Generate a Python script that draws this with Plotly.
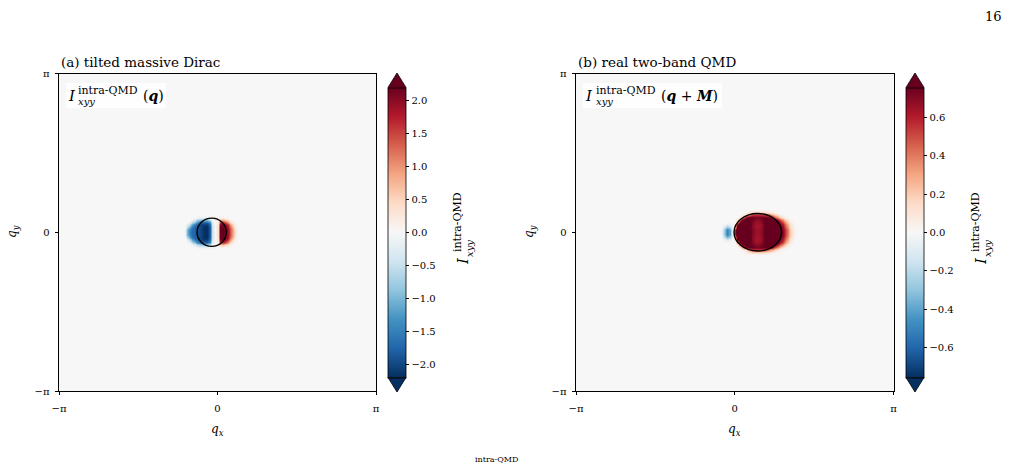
import numpy as np
import plotly.graph_objects as go

W, H = 1013, 467
PI = np.pi
FONT = "DejaVu Serif"

# ---------------- data: panel (a) tilted massive Dirac ----------------
qx_a = [-0.65, -0.60, -0.55, -0.50, -0.45, -0.40, -0.35, -0.30, -0.25, -0.20, -0.15, -0.10,
        -0.05, 0.00, 0.05, 0.10, 0.15, 0.20, 0.25, 0.30, 0.35, 0.40, 0.45]
qy_a = [-0.35, -0.30, -0.25, -0.20, -0.15, -0.10, -0.05, 0.00, 0.05, 0.10, 0.15, 0.20, 0.25, 0.30, 0.35]
# values in tenths, rows from qy=-0.35 (bottom) to qy=+0.35 (top)
z_a_tenths = [
    [0, 0, 0, 0, 0, 0, 0, 0, 0, 0, 0, 0, 0, 0, 0, 0, 0, 0, 0, 0, 0, 0, 0],
    [0, 0, 0, 0, 0, -1, -1, -1, -1, -1, 0, 2, 1, -1, 0, 0, 0, 0, 0, 0, 0, 0, 0],
    [0, 0, 0, -1, -3, -6, -8, -9, -9, -8, -5, 0, 1, 1, 6, 7, 5, 3, 1, 0, 0, 0, 0],
    [0, 0, -2, -6, -10, -14, -17, -18, -18, -18, -14, -3, 0, 2, 16, 17, 15, 10, 5, 1, 0, 0, 0],
    [0, -2, -7, -12, -16, -18, -20, -21, -21, -21, -17, -4, 0, 3, 21, 21, 20, 16, 10, 4, 1, 0, 0],
    [0, -6, -12, -16, -18, -19, -20, -21, -22, -22, -18, -5, 0, 4, 22, 22, 21, 18, 13, 7, 2, 0, 0],
    [-1, -10, -15, -17, -18, -19, -20, -21, -22, -22, -18, -5, 0, 4, 22, 22, 21, 19, 14, 8, 3, 0, 0],
    [-1, -10, -15, -17, -18, -19, -20, -21, -22, -22, -18, -5, 0, 4, 22, 22, 21, 19, 14, 8, 3, 0, 0],
    [-1, -10, -15, -17, -18, -19, -20, -21, -22, -22, -18, -5, 0, 4, 22, 22, 21, 19, 14, 8, 3, 0, 0],
    [0, -6, -12, -16, -18, -19, -20, -21, -22, -22, -18, -5, 0, 4, 22, 22, 21, 18, 13, 7, 2, 0, 0],
    [0, -2, -7, -12, -16, -18, -20, -21, -21, -21, -17, -4, 0, 3, 21, 21, 20, 16, 10, 4, 1, 0, 0],
    [0, 0, -2, -6, -10, -14, -17, -18, -18, -18, -14, -3, 0, 2, 16, 17, 15, 10, 5, 1, 0, 0, 0],
    [0, 0, 0, -1, -3, -6, -8, -9, -9, -8, -5, 0, 1, 1, 6, 7, 5, 3, 1, 0, 0, 0, 0],
    [0, 0, 0, 0, 0, -1, -1, -1, -1, -1, 0, 2, 2, 0, 1, 1, 0, 0, 0, 0, 0, 0, 0],
    [0, 0, 0, 0, 0, 0, 0, 0, 0, 0, 0, 0, 0, 0, 0, 0, 0, 0, 0, 0, 0, 0, 0],
]
fermi_a_center = [-0.115, 0.0]
fermi_a_radius = [0.29, 0.28]
zlim_a = 2.19
cbar_a_ticks = [-2.0, -1.5, -1.0, -0.5, 0.0, 0.5, 1.0, 1.5, 2.0]

# ---------------- data: panel (b) real two-band QMD ----------------
qx_b = [-0.30, -0.25, -0.20, -0.15, -0.10, -0.05, 0.00, 0.05, 0.10, 0.15, 0.20, 0.25, 0.30, 0.35,
        0.40, 0.45, 0.50, 0.55, 0.60, 0.65, 0.70, 0.75, 0.80, 0.85, 0.90, 0.95, 1.00, 1.05, 1.10,
        1.15, 1.20, 1.25]
qy_b = [-0.45, -0.40, -0.35, -0.30, -0.25, -0.20, -0.15, -0.10, -0.05, 0.00, 0.05, 0.10, 0.15,
        0.20, 0.25, 0.30, 0.35, 0.40, 0.45]
# values in hundredths, rows from qy=-0.45 (bottom) to qy=+0.45 (top)
z_b_hundredths = [
    [0] * 32,
    [0, 0, 0, 0, 0, 0, 0, 0, 0, 0, 2, 5, 10, 14, 16, 16, 16, 15, 13, 10, 7, 4, 2, 0, 0, 0, 0, 0, 0, 0, 0, 0],
    [0, 0, 0, 0, 0, 0, 0, 0, 0, 3, 10, 22, 40, 52, 56, 56, 56, 54, 50, 44, 36, 26, 16, 8, 3, 1, 0, 0, 0, 0, 0, 0],
    [0, 0, 0, 0, 0, 0, 0, 0, 8, 25, 60, 78, 80, 78, 74, 72, 74, 76, 78, 76, 72, 62, 48, 34, 20, 10, 4, 1, 0, 0, 0, 0],
    [0, 0, 0, 0, 0, 0, 0, 5, 40, 80, 86, 84, 80, 74, 70, 68, 70, 74, 80, 82, 82, 80, 74, 62, 48, 32, 18, 8, 2, 0, 0, 0],
    [0, 0, 0, 0, 0, 0, 0, 30, 80, 88, 88, 84, 78, 72, 66, 64, 66, 72, 80, 85, 86, 85, 82, 75, 65, 50, 35, 18, 8, 2, 0, 0],
    [0, 0, -5, -10, -5, 0, 5, 70, 88, 90, 88, 84, 78, 70, 65, 63, 65, 70, 80, 86, 88, 88, 86, 80, 72, 60, 44, 27, 12, 4, 0, 0],
    [0, -3, -20, -32, -22, -5, 20, 86, 90, 90, 88, 84, 78, 70, 65, 63, 65, 70, 80, 86, 90, 90, 88, 84, 76, 65, 50, 32, 16, 6, 1, 0],
    [0, -8, -35, -50, -38, -8, 60, 88, 92, 92, 90, 86, 80, 72, 66, 64, 66, 72, 82, 88, 92, 92, 90, 86, 80, 70, 55, 38, 20, 8, 2, 0],
    [0, -8, -35, -50, -38, -8, 60, 88, 92, 92, 90, 86, 80, 72, 66, 64, 66, 72, 82, 88, 92, 92, 90, 86, 80, 70, 55, 38, 20, 8, 2, 0],
    [0, -8, -35, -50, -38, -8, 60, 88, 92, 92, 90, 86, 80, 72, 66, 64, 66, 72, 82, 88, 92, 92, 90, 86, 80, 70, 55, 38, 20, 8, 2, 0],
    [0, -3, -20, -32, -22, -5, 20, 86, 90, 90, 88, 84, 78, 70, 65, 63, 65, 70, 80, 86, 90, 90, 88, 84, 76, 65, 50, 32, 16, 6, 1, 0],
    [0, 0, -5, -10, -5, 0, 5, 70, 88, 90, 88, 84, 78, 70, 65, 63, 65, 70, 80, 86, 88, 88, 86, 80, 72, 60, 44, 27, 12, 4, 0, 0],
    [0, 0, 0, 0, 0, 0, 0, 30, 80, 88, 88, 84, 78, 72, 66, 64, 66, 72, 80, 85, 86, 85, 82, 75, 65, 50, 35, 18, 8, 2, 0, 0],
    [0, 0, 0, 0, 0, 0, 0, 5, 40, 80, 86, 84, 80, 74, 70, 68, 70, 74, 80, 82, 82, 80, 74, 62, 48, 32, 18, 8, 2, 0, 0, 0],
    [0, 0, 0, 0, 0, 0, 0, 0, 8, 25, 60, 78, 80, 78, 74, 72, 74, 76, 78, 76, 72, 62, 48, 34, 20, 10, 4, 1, 0, 0, 0, 0],
    [0, 0, 0, 0, 0, 0, 0, 0, 0, 3, 10, 22, 40, 52, 56, 56, 56, 54, 50, 44, 36, 26, 16, 8, 3, 1, 0, 0, 0, 0, 0, 0],
    [0, 0, 0, 0, 0, 0, 0, 0, 0, 0, 2, 5, 10, 14, 16, 16, 16, 15, 13, 10, 7, 4, 2, 0, 0, 0, 0, 0, 0, 0, 0, 0],
    [0] * 32,
]
fermi_b_center = [0.456, 0.0]
fermi_b_radius = [0.47, 0.37]
zlim_b = 0.757
cbar_b_ticks = [-0.6, -0.4, -0.2, 0.0, 0.2, 0.4, 0.6]

axis_ticks = [-PI, 0.0, PI]
axis_ticktext = ["\u2212\u03c0", "0", "\u03c0"]

RDBU_R = ["#053061", "#2166ac", "#4393c3", "#92c5de", "#d1e5f0", "#f7f7f7",
          "#fddbc7", "#f4a582", "#d6604d", "#b2182b", "#67001f"]
colorscale = [[i / 10, c] for i, c in enumerate(RDBU_R)]


def padded(qx, qy, rows, scale):
    # surround the read-off window with zero-valued cells out to the zone edges
    dx = qx[1] - qx[0]
    dy = qy[1] - qy[0]
    x = [-PI, qx[0] - dx] + list(qx) + [qx[-1] + dx, PI]
    y = [-PI, qy[0] - dy] + list(qy) + [qy[-1] + dy, PI]
    zero = [0.0] * len(x)
    z = [zero, zero]
    for r in rows:
        z.append([0.0, 0.0] + [v * scale for v in r] + [0.0, 0.0])
    z += [zero, zero]
    return x, y, z


def fmt(v, nd):
    s = f"{abs(v):.{nd}f}"
    return ("\u2212" + s) if v < -1e-9 else s


def px(x):
    return x / W


def py(y):
    return 1 - y / H


# layout geometry (pixels)
A_L, A_R = 59, 376
B_L, B_R = 576, 893.5
P_T, P_B = 73.5, 391
CB_W = 18
CBA_L, CBB_L = 388, 906
CB_T, CB_B = 87.5, 377.5
TRI_T, TRI_B = 73, 392

fig = go.Figure()

xa, ya, za = padded(qx_a, qy_a, z_a_tenths, 0.1)
xb, yb, zb = padded(qx_b, qy_b, z_b_hundredths, 0.01)


def cbar(left, ticks, nd):
    return dict(
        x=px(left), xanchor="left", xpad=0, ypad=0,
        y=py((CB_T + CB_B) / 2), yanchor="middle",
        len=CB_B - CB_T, lenmode="pixels",
        thickness=CB_W, thicknessmode="pixels",
        outlinewidth=0.8, outlinecolor="black",
        tickvals=ticks, ticktext=[fmt(t, nd) for t in ticks],
        ticks="outside", ticklen=3.5, tickwidth=0.8, tickcolor="black",
        tickfont=dict(family=FONT, size=10, color="black"),
    )


fig.add_trace(go.Heatmap(x=xa, y=ya, z=za, colorscale=colorscale, zmin=-zlim_a, zmax=zlim_a,
                         zsmooth="best", colorbar=cbar(CBA_L, cbar_a_ticks, 1),
                         xaxis="x", yaxis="y", hoverinfo="skip"))
fig.add_trace(go.Heatmap(x=xb, y=yb, z=zb, colorscale=colorscale, zmin=-zlim_b, zmax=zlim_b,
                         zsmooth="best", colorbar=cbar(CBB_L, cbar_b_ticks, 1),
                         xaxis="x2", yaxis="y2", hoverinfo="skip"))

ax_common = dict(
    range=[-PI, PI], tickvals=axis_ticks, ticktext=axis_ticktext,
    ticks="outside", ticklen=3.5, tickwidth=0.8, tickcolor="black",
    showline=True, linecolor="black", linewidth=0.9, mirror=True,
    showgrid=False, zeroline=False, automargin=False,
    tickfont=dict(family=FONT, size=10, color="black"),
)
xax = dict(ax_common, ticklabelstandoff=5)
yax = dict(ax_common, ticklabelstandoff=3)

fig.update_layout(
    width=W, height=H,
    margin=dict(l=0, r=0, t=0, b=0, autoexpand=False),
    paper_bgcolor="white", plot_bgcolor="white",
    showlegend=False,
    xaxis=dict(domain=[px(A_L), px(A_R)], anchor="y", **xax),
    yaxis=dict(domain=[py(P_B), py(P_T)], anchor="x", **yax),
    xaxis2=dict(domain=[px(B_L), px(B_R)], anchor="y2", **xax),
    yaxis2=dict(domain=[py(P_B), py(P_T)], anchor="x2", **yax),
)

shapes = []
# Fermi contours
for xr, yr, c, r in [("x", "y", fermi_a_center, fermi_a_radius),
                     ("x2", "y2", fermi_b_center, fermi_b_radius)]:
    shapes.append(dict(type="circle", xref=xr, yref=yr,
                       x0=c[0] - r[0], x1=c[0] + r[0], y0=c[1] - r[1], y1=c[1] + r[1],
                       line=dict(color="black", width=1.4)))

# colorbar extension triangles
for left in (CBA_L, CBB_L):
    l, r, m = px(left), px(left + CB_W), px(left + CB_W / 2)
    shapes.append(dict(type="path", xref="paper", yref="paper",
                       path=f"M {l},{py(CB_T)} L {m},{py(TRI_T)} L {r},{py(CB_T)} Z",
                       fillcolor=RDBU_R[-1], line=dict(color="black", width=0.8)))
    shapes.append(dict(type="path", xref="paper", yref="paper",
                       path=f"M {l},{py(CB_B)} L {m},{py(TRI_B)} L {r},{py(CB_B)} Z",
                       fillcolor=RDBU_R[0], line=dict(color="black", width=0.8)))

# label boxes
for x0, x1 in [(66, 166), (583, 722)]:
    shapes.append(dict(type="rect", xref="paper", yref="paper",
                       x0=px(x0), x1=px(x1), y0=py(108), y1=py(83),
                       fillcolor="rgba(255,255,255,0.85)", line=dict(width=0)))
fig.update_layout(shapes=shapes)


def ann(text, x, y, size, xanchor="center", yanchor="middle", angle=0):
    return dict(text=text, x=px(x), y=py(y), xref="paper", yref="paper", showarrow=False,
                font=dict(family=FONT, size=size, color="black"),
                xanchor=xanchor, yanchor=yanchor, textangle=angle)


anns = [
    ann("(a) tilted massive Dirac", A_L, 62, 13.5, xanchor="left"),
    ann("(b) real two-band QMD", B_L, 62, 13.5, xanchor="left"),
    # in-panel labels
    ann("<i>I</i>", 71.5, 96, 15),
    ann("intra-QMD", 76, 90, 11, xanchor="left"),
    ann("<i>xyy</i>", 76, 102, 10, xanchor="left"),
    ann("(<b><i>q</i></b>)", 141, 96, 14, xanchor="left"),
    ann("<i>I</i>", 589, 96, 15),
    ann("intra-QMD", 594, 90, 11, xanchor="left"),
    ann("<i>xyy</i>", 594, 102, 10, xanchor="left"),
    ann("(<b><i>q</i></b> + <b><i>M</i></b>)", 659, 96, 14, xanchor="left"),
    # axis titles
    ann("<i>q</i><sub><i>x</i></sub>", (A_L + A_R) / 2, 430, 12),
    ann("<i>q</i><sub><i>x</i></sub>", (B_L + B_R) / 2, 430, 12),
    ann("<i>q</i><sub><i>y</i></sub>", 13, 232, 12, angle=-90),
    ann("<i>q</i><sub><i>y</i></sub>", 530, 232, 12, angle=-90),
    # colorbar titles
    ann("<i>I</i>", 463, 261, 15, angle=-90),
    ann("intra-QMD", 457, 222, 11, angle=-90),
    ann("<i>xyy</i>", 469, 249, 10, angle=-90),
    ann("<i>I</i>", 981, 261, 15, angle=-90),
    ann("intra-QMD", 975, 222, 11, angle=-90),
    ann("<i>xyy</i>", 987, 249, 10, angle=-90),
    # page number and caption fragment at the bottom edge
    ann("16", 993, 16, 13),
    ann("intra-QMD", 496, 466, 8, yanchor="bottom"),
]
fig.update_layout(annotations=anns)

fig.write_html("out.html")
